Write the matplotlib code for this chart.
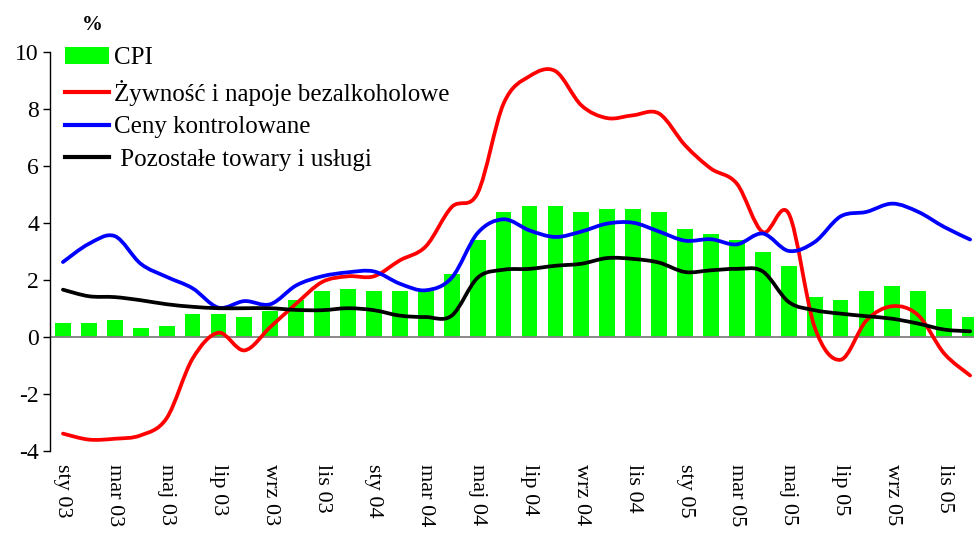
import numpy as np
import matplotlib
matplotlib.use("Agg")
import matplotlib.pyplot as plt
from matplotlib.path import Path
from matplotlib.patches import PathPatch
from matplotlib.lines import Line2D

plt.rcParams['font.family'] = ['Liberation Serif', 'DejaVu Serif']
plt.rcParams['axes.unicode_minus'] = False

# monthly data Jan 2003 - Dec 2005
cpi = [0.5, 0.5, 0.6, 0.3, 0.4, 0.8, 0.8, 0.7, 0.9, 1.3, 1.6, 1.7,
       1.6, 1.6, 1.7, 2.2, 3.4, 4.4, 4.6, 4.6, 4.4, 4.5, 4.5, 4.4,
       3.8, 3.6, 3.4, 3.0, 2.5, 1.4, 1.3, 1.6, 1.8, 1.6, 1.0, 0.7]
food = [-3.39, -3.6, -3.57, -3.45, -2.85, -0.76, 0.15, -0.47, 0.35, 1.17, 1.93, 2.13,
        2.13, 2.69, 3.18, 4.56, 5.05, 8.19, 9.15, 9.33, 8.13, 7.68, 7.78, 7.84,
        6.73, 5.91, 5.38, 3.68, 4.33, 0.35, -0.8, 0.58, 1.08, 0.76, -0.58, -1.35]
controlled = [2.63, 3.27, 3.54, 2.57, 2.11, 1.71, 1.03, 1.26, 1.15, 1.81, 2.13, 2.27,
              2.30, 1.87, 1.64, 2.08, 3.65, 4.13, 3.74, 3.51, 3.70, 3.98, 4.01, 3.70,
              3.38, 3.43, 3.25, 3.63, 3.02, 3.33, 4.23, 4.39, 4.68, 4.39, 3.86, 3.42]
other = [1.66, 1.43, 1.40, 1.29, 1.15, 1.06, 1.01, 1.01, 1.01, 0.95, 0.94, 1.01,
         0.94, 0.75, 0.70, 0.75, 2.08, 2.36, 2.39, 2.50, 2.57, 2.77, 2.74, 2.61,
         2.28, 2.34, 2.39, 2.30, 1.23, 0.94, 0.82, 0.73, 0.64, 0.47, 0.26, 0.20]
tick_labels = ['sty 03', 'mar 03', 'maj 03', 'lip 03', 'wrz 03', 'lis 03',
               'sty 04', 'mar 04', 'maj 04', 'lip 04', 'wrz 04', 'lis 04',
               'sty 05', 'mar 05', 'maj 05', 'lip 05', 'wrz 05', 'lis 05']
legend_labels = ['CPI', 'Żywność i napoje bezalkoholowe', 'Ceny kontrolowane',
                 ' Pozostałe towary i usługi']


def smooth_path(xs, ys):
    pts = np.column_stack([xs, ys]).astype(float)
    n = len(pts)
    verts = [pts[0]]
    codes = [Path.MOVETO]
    for i in range(n - 1):
        p0 = pts[i - 1] if i > 0 else pts[i]
        p1 = pts[i]
        p2 = pts[i + 1]
        p3 = pts[i + 2] if i + 2 < n else pts[i + 1]
        c1 = p1 + (p2 - p0) / 6.0
        c2 = p2 - (p3 - p1) / 6.0
        verts += [c1, c2, p2]
        codes += [Path.CURVE4] * 3
    return Path(verts, codes)


fig = plt.figure(figsize=(9.74, 5.34), dpi=100)
ax = fig.add_axes([50 / 974, 1 - 451 / 534, 1 - 50 / 974, (451 - 52) / 534])

x = np.arange(len(cpi))
ax.bar(x, cpi, width=0.61, color='#00FF00', zorder=1, label=legend_labels[0])
ax.axhline(0, color='#808080', lw=1.3, zorder=2)

colors = ['#FF0000', '#0000FF', '#000000']
series = [food, controlled, other]
handles = []
for s, c, lab in zip(series, colors, legend_labels[1:]):
    pp = PathPatch(smooth_path(x, s), facecolor='none', edgecolor=c, lw=2.7,
                   capstyle='round', joinstyle='round', zorder=3)
    ax.add_patch(pp)
    handles.append(Line2D([], [], color=c, lw=3.0, label=lab))

ax.set_xlim(-0.5, 35.15)
ax.set_ylim(-4, 10)
ax.set_yticks(np.arange(-4, 11, 2))
ax.set_yticklabels([str(v) for v in range(-4, 11, 2)])
ax.set_xticks(x[::2])
ax.set_xticklabels(tick_labels, rotation=270, va='top', ha='center')
ax.tick_params(axis='x', length=0, pad=9, labelsize=16)
ax.tick_params(axis='y', direction='out', length=5, width=1, labelsize=17, pad=3)
for sp in ['top', 'right', 'bottom']:
    ax.spines[sp].set_visible(False)
ax.spines['left'].set_linewidth(1)

bars_handle = ax.containers[0]
leg = fig.legend([bars_handle] + handles, legend_labels,
                 loc='upper left', bbox_to_anchor=(60 / 974, 1 - 42 / 534),
                 frameon=False, fontsize=18, handlelength=1.75, handleheight=0.65,
                 labelspacing=0.42, handletextpad=0.22, borderpad=0.2,
                 borderaxespad=0)

fig.text(92 / 974, 1 - 25 / 534, '%', fontsize=15, fontweight='bold',
         ha='center', va='center')

fig.savefig('out.png', dpi=100)
